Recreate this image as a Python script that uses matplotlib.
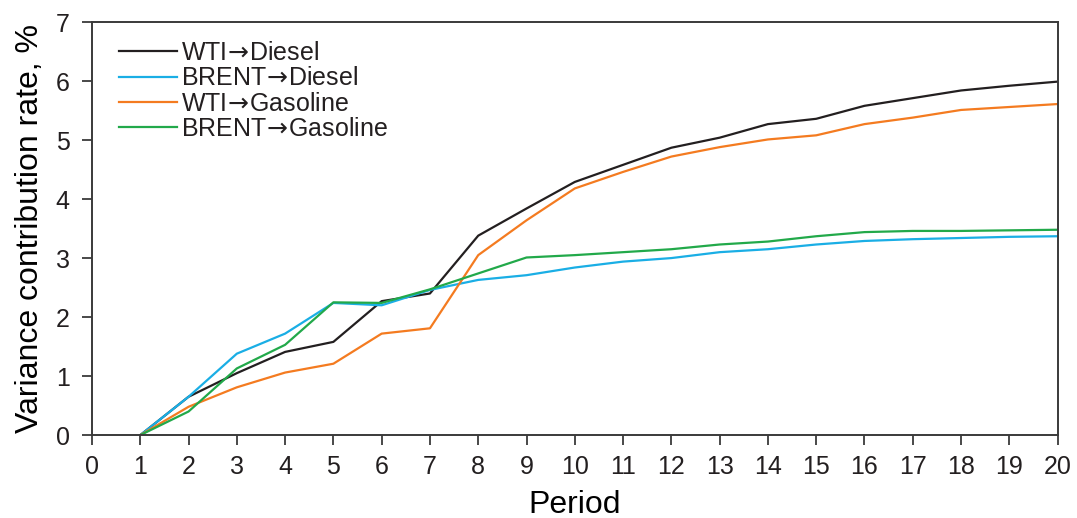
import matplotlib
matplotlib.use('Agg')
import matplotlib.pyplot as plt

plt.rcParams['font.family'] = ['Liberation Sans', 'DejaVu Sans']
plt.rcParams['mathtext.fontset'] = 'dejavusans'
plt.rcParams['text.color'] = '#231f20'
plt.rcParams['xtick.color'] = '#3a3a3a'
plt.rcParams['ytick.color'] = '#3a3a3a'

periods = list(range(1, 21))
wti_diesel = [0, 0.65, 1.05, 1.41, 1.58, 2.27, 2.40, 3.38, 3.84, 4.29, 4.58, 4.87,
              5.04, 5.27, 5.36, 5.58, 5.71, 5.84, 5.92, 5.99]
brent_diesel = [0, 0.65, 1.38, 1.72, 2.24, 2.20, 2.46, 2.63, 2.71, 2.84, 2.94, 3.00,
                3.10, 3.15, 3.23, 3.29, 3.32, 3.34, 3.36, 3.37]
wti_gasoline = [0, 0.48, 0.81, 1.06, 1.21, 1.72, 1.81, 3.05, 3.64, 4.18, 4.46, 4.72,
                4.88, 5.01, 5.08, 5.27, 5.38, 5.51, 5.56, 5.61]
brent_gasoline = [0, 0.40, 1.13, 1.53, 2.25, 2.24, 2.47, 2.74, 3.01, 3.05, 3.10, 3.15,
                  3.23, 3.28, 3.37, 3.44, 3.46, 3.46, 3.47, 3.48]

# arrow via mathtext (longer glyph), negative space trims relation padding
arrow = '$\\!\\rightarrow\\!$'
labels = ['WTI' + arrow + 'Diesel', 'BRENT' + arrow + 'Diesel',
          'WTI' + arrow + 'Gasoline', 'BRENT' + arrow + 'Gasoline']
colors = ['#231f20', '#1aaee5', '#f47b20', '#22a94a']

fig = plt.figure(figsize=(10.77, 5.18), dpi=100)
ax = fig.add_axes([0.0854, 0.160, 0.8966, 0.7975])

for series, lab, col in zip([wti_diesel, brent_diesel, wti_gasoline, brent_gasoline], labels, colors):
    ax.plot(periods, series, color=col, lw=1.6, label=lab)

ax.set_xlim(0, 20)
ax.set_ylim(0, 7)
ax.set_xticks(range(0, 21))
ax.set_yticks(range(0, 8))
ax.tick_params(direction='out', length=7, width=1.3, labelsize=18, labelcolor='#231f20')
ax.tick_params(axis='x', pad=7)
ax.tick_params(axis='y', pad=9)
for s in ax.spines.values():
    s.set_color('#3a3a3a')
    s.set_linewidth(1.4)

ax.set_xlabel('Period', fontsize=23, labelpad=8)
ax.set_ylabel('Variance contribution rate, %', fontsize=23, labelpad=8)

ax.legend(loc='upper left', frameon=False, fontsize=18, labelspacing=0.05,
          handlelength=2.3, handletextpad=0.15, borderaxespad=0,
          bbox_to_anchor=(0.018, 0.978))

fig.savefig('out.png', dpi=100)
